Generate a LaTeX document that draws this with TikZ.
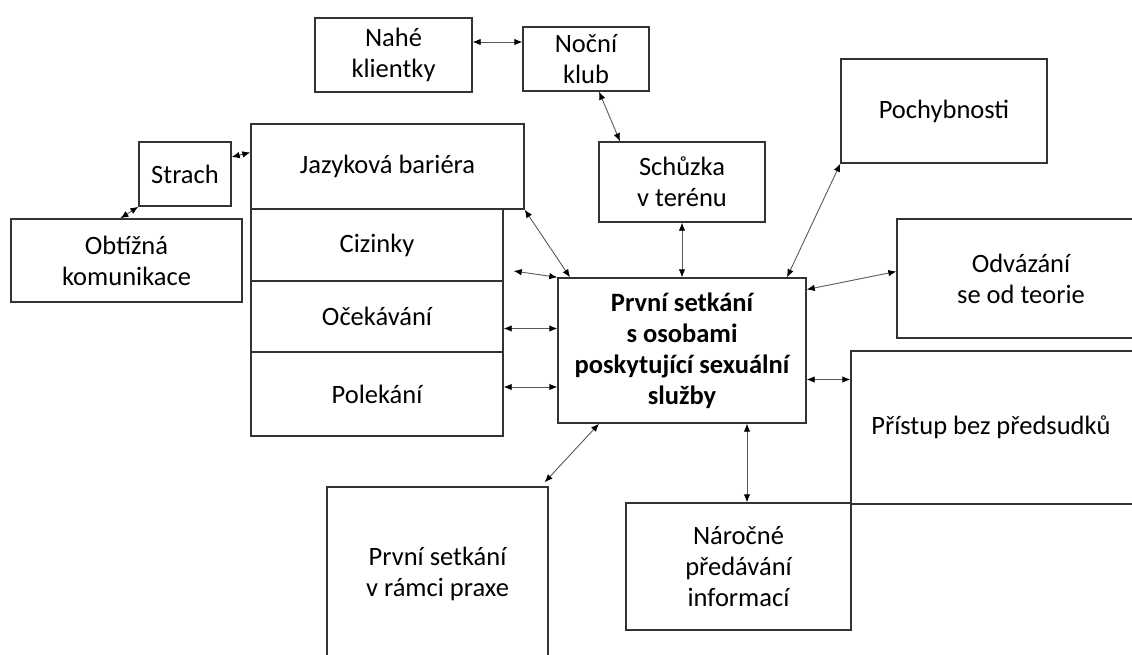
\documentclass[tikz,border=0pt]{standalone}
\usepackage{fontspec}
\setmainfont{Carlito}
\usetikzlibrary{arrows.meta}

\begin{document}
\begin{tikzpicture}[x=1pt,y=-1pt,>={Latex[length=8pt,width=6.5pt,color=black]},font=\fontsize{26.5}{31}\selectfont]
    \tikzstyle{box}=[draw=black!80,line width=1.4pt,align=center,inner sep=0pt]
    \tikzstyle{core}=[box,font=\fontsize{26.5}{31}\selectfont\bfseries]
    \tikzstyle{link}=[<->,draw=black!65,line width=0.9pt]

    \path[use as bounding box,clip] (0,0) rectangle (1132,655);

    % Upper boxes
    \node[box,minimum width=157pt,minimum height=74pt] (nahe) at (393.5,55) {Nahé\\klientky};
    \node[box,minimum width=126pt,minimum height=64pt] (nocni) at (586,59) {Noční\\klub};
    \node[box,minimum width=166pt,minimum height=80pt] (schuzka) at (682,182) {Schůzka\\v terénu};
    \node[box,minimum width=206pt,minimum height=104pt] (pochyb) at (944,111) {Pochybnosti};

    % Left column
    \node[box,minimum width=92pt,minimum height=64pt] (strach) at (185,174) {Strach};
    \node[box,minimum width=231pt,minimum height=83pt] (obtiz) at (126.5,260.5) {Obtížná\\komunikace};
    \node[box,minimum width=273pt,minimum height=85pt] (jazyk) at (387.5,166.5) {Jazyková bariéra};
    \node[box,minimum width=252pt,minimum height=72pt] (cizinky) at (377,245) {Cizinky};
    \node[box,minimum width=252pt,minimum height=71pt] (ocek) at (377,316.5) {Očekávání};
    \node[box,minimum width=252pt,minimum height=84pt] (polek) at (377,394) {Polekání};

    % Centre
    \node[core,minimum width=248pt,minimum height=145pt] (main) at (682,350.5) {První setkání\\s osobami\\poskytující sexuální\\služby};

    % Right and bottom
    \node[box,minimum width=248pt,minimum height=119pt] (odvaz) at (1021,278.5) {Odvázání\\se od teorie};
    \node[box,minimum width=300pt,minimum height=153pt] (pristup) at (1001,427.5) {Přístup bez předsudků\hspace*{20pt}};
    \node[box,minimum width=225pt,minimum height=127pt] (naroc) at (738.5,566.5) {Náročné\\předávání\\informací};
    \node[box,minimum width=221pt,minimum height=173pt] (praxe) at (437.5,573.5) {První setkání\\v rámci praxe};

    % Connections
    \draw[link] ([yshift=13pt]nahe.east) -- ([yshift=13pt]nahe.east -| nocni.west);
    \draw[link] ([xshift=13pt]nocni.south) -- ([xshift=-62pt]schuzka.north);
    \draw[link] ([yshift=17pt]strach.east) -- ([yshift=14pt]jazyk.west);
    \draw[link] (strach.south west) -- ([xshift=-6pt]obtiz.north);
    \draw[link] (jazyk.south east) -- ([xshift=-112pt]main.north);
    \draw[link] ([shift={(10pt,-26pt)}]cizinky.east) -- (main.north west);
    \draw[link] ([yshift=-12pt]ocek.east) -- ([yshift=-12pt]ocek.east -| main.west);
    \draw[link] ([yshift=7pt]polek.east) -- ([yshift=7pt]polek.east -| main.west);
    \draw[link] (schuzka.south) -- (main.north);
    \draw[link] (pochyb.south west) -- ([xshift=105pt]main.north);
    \draw[link] ([yshift=7pt]odvaz.west) -- ([yshift=61pt]main.east);
    \draw[link] ([yshift=48pt]pristup.west) -- ([yshift=48pt]pristup.west -| main.east);
    \draw[link] ([xshift=-83pt]main.south) -- ([shift={(-4pt,4pt)}]praxe.north east);
    \draw[link] ([xshift=65pt]main.south) -- ([xshift=65pt]main.south |- naroc.north);

\end{tikzpicture}
\end{document}
